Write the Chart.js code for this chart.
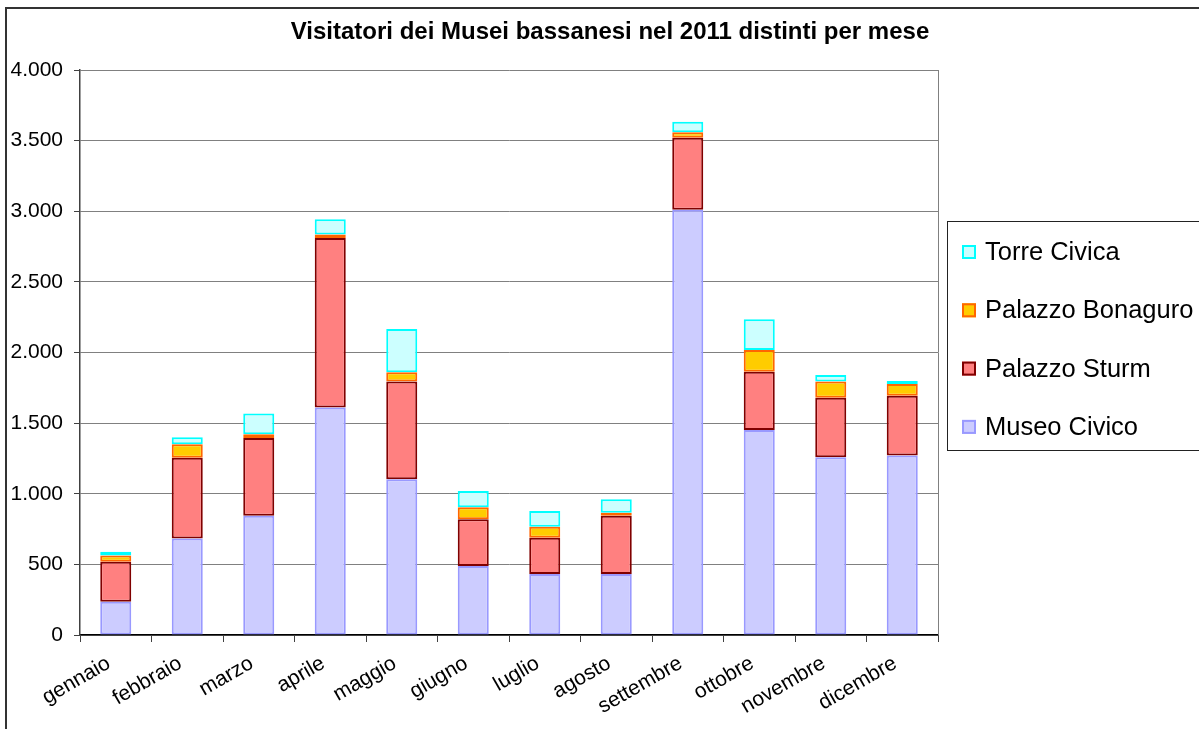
<!DOCTYPE html>
<html>
<head>
<meta charset="utf-8">
<script src="https://cdn.jsdelivr.net/npm/chart.js@4"></script>
<style>
  html, body { margin: 0; padding: 0; background: #fff; }
  #wrap { width: 1199px; height: 729px; }
</style>
</head>
<body>
<div id="wrap"><canvas id="chart" width="1199" height="729"></canvas></div>
<script>
// data
const mesi = ['gennaio', 'febbraio', 'marzo', 'aprile', 'maggio', 'giugno', 'luglio', 'agosto', 'settembre', 'ottobre', 'novembre', 'dicembre'];
const museoCivico = [236, 684, 845, 1610, 1102, 489, 432, 432, 3010, 1451, 1258, 1270];
const palazzoSturm = [283, 571, 550, 1201, 692, 330, 257, 413, 511, 413, 422, 424];
const palazzoBonaguro = [43, 95, 26, 24, 66, 85, 78, 21, 38, 154, 114, 83];
const torreCivica = [28, 50, 148, 108, 306, 115, 111, 95, 75, 217, 47, 21];
const titolo = 'Visitatori dei Musei bassanesi nel 2011 distinti per mese';

Chart.defaults.font.family = "'Liberation Sans', Arial, sans-serif";
Chart.defaults.color = '#000';

function formatIt(v) {
  return String(v).replace(/\B(?=(\d{3})+(?!\d))/g, '.');
}

// title, legend box, frame: drawn by hand to sit where Excel put them
const extras = {
  id: 'extras',
  afterDraw(chart) {
    const ctx = chart.ctx;
    const area = chart.chartArea;
    ctx.save();
    // plot area right border
    ctx.strokeStyle = '#808080';
    ctx.lineWidth = 1;
    ctx.beginPath();
    ctx.moveTo(Math.round(area.right) + 0.5, area.top);
    ctx.lineTo(Math.round(area.right) + 0.5, area.bottom);
    ctx.stroke();
    // outer frame
    ctx.strokeStyle = '#333';
    ctx.lineWidth = 2;
    ctx.strokeRect(6, 8, 1400, 900);
    // title
    ctx.fillStyle = '#000';
    ctx.font = "bold 24px 'Liberation Sans', Arial, sans-serif";
    ctx.textAlign = 'center';
    ctx.textBaseline = 'middle';
    ctx.fillText(titolo, 610, 32);
    // legend
    ctx.strokeStyle = '#222';
    ctx.lineWidth = 1;
    ctx.strokeRect(947.5, 221.5, 400, 229);
    ctx.font = "25.5px 'Liberation Sans', Arial, sans-serif";
    ctx.textAlign = 'left';
    const ds = chart.data.datasets.slice().reverse();
    ds.forEach((d, i) => {
      const y = 252 + i * 58.3;
      ctx.fillStyle = d.backgroundColor;
      ctx.fillRect(962, y - 7, 14, 14);
      ctx.strokeStyle = d.borderColor;
      ctx.lineWidth = 2;
      ctx.strokeRect(963, y - 6, 12, 12);
      ctx.fillStyle = '#000';
      ctx.fillText(d.label, 985, y + 1);
    });
    ctx.restore();
  }
};

new Chart(document.getElementById('chart'), {
  type: 'bar',
  data: {
    labels: mesi,
    datasets: [
      { label: 'Museo Civico', data: museoCivico, backgroundColor: '#CCCCFF', borderColor: '#9999FF' },
      { label: 'Palazzo Sturm', data: palazzoSturm, backgroundColor: '#FF8080', borderColor: '#800000' },
      { label: 'Palazzo Bonaguro', data: palazzoBonaguro, backgroundColor: '#FFCC00', borderColor: '#FF6600' },
      { label: 'Torre Civica', data: torreCivica, backgroundColor: '#CCFFFF', borderColor: '#00FFFF' }
    ]
  },
  options: {
    responsive: false,
    animation: false,
    layout: { padding: { top: 70, right: 261, left: 0, bottom: 0 } },
    datasets: {
      bar: { barPercentage: 0.434, categoryPercentage: 1, borderWidth: 2, borderSkipped: false }
    },
    plugins: {
      legend: { display: false },
      title: { display: false },
      tooltip: { enabled: false }
    },
    scales: {
      x: {
        stacked: true,
        grid: { drawOnChartArea: false, drawTicks: true, tickLength: 7, tickColor: '#404040', offset: true },
        border: { color: '#000', width: 1.5 },
        ticks: { font: { size: 21 }, minRotation: 30, maxRotation: 30, autoSkip: false, padding: 9, labelOffset: -7, color: '#000' },
        afterFit(scale) { scale.height = 94; }
      },
      y: {
        stacked: true,
        min: 0,
        max: 4000,
        grid: { color: '#808080', tickLength: 6, tickColor: '#404040' },
        border: { color: '#404040', width: 1.5 },
        ticks: { stepSize: 500, font: { size: 21 }, padding: 11, color: '#000', callback: v => formatIt(v) },
        afterFit(scale) { scale.width = 80; }
      }
    }
  },
  plugins: [extras]
});
</script>
</body>
</html>
